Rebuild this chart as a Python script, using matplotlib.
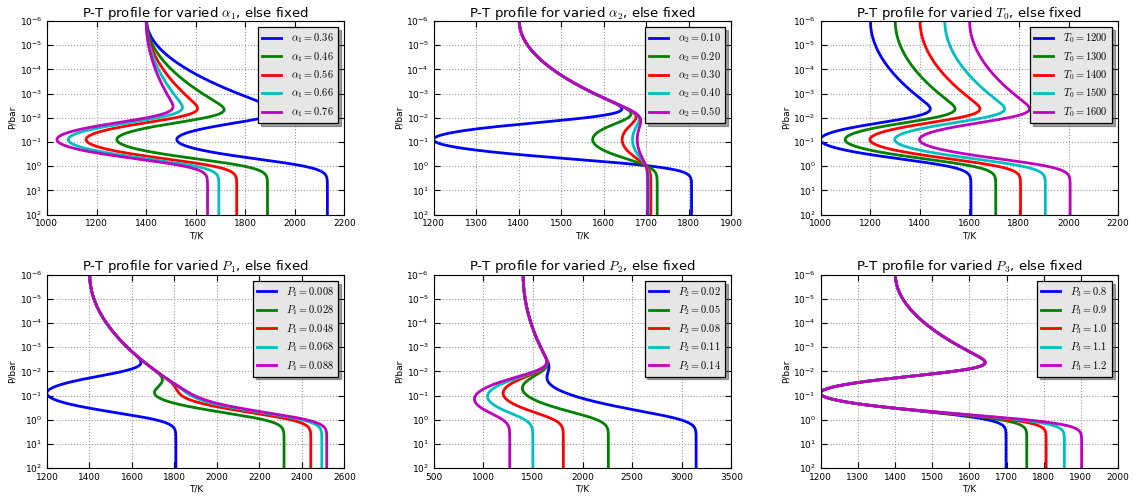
import numpy as np
import matplotlib
matplotlib.use('Agg')
import matplotlib.pyplot as plt

plt.rcParams['mathtext.fontset'] = 'cm'
plt.rcParams['font.family'] = ['DejaVu Sans']

# fixed values of the three-layer profile (Madhusudhan & Seager style)
T0_FIX = 1400.
ALPHA1_FIX = 0.52
ALPHA2_FIX = 0.10
P1_FIX = 0.008
P2_FIX = 0.08
P3_FIX = 1.0

# values that get varied, one panel each
alpha1_vals = [0.36, 0.46, 0.56, 0.66, 0.76]
alpha2_vals = [0.10, 0.20, 0.30, 0.40, 0.50]
t0_vals = [1200, 1300, 1400, 1500, 1600]
p1_vals = [0.008, 0.028, 0.048, 0.068, 0.088]
p2_vals = [0.02, 0.05, 0.08, 0.11, 0.14]
p3_vals = [0.8, 0.9, 1.0, 1.1, 1.2]

xlims = [(1000, 2200), (1200, 1900), (1000, 2200),
         (1200, 2600), (500, 3500), (1200, 2000)]
xsteps = [200, 100, 200, 200, 500, 100]
p_decades = np.arange(-6, 3)

COLORS = ['b', 'g', 'r', 'c', 'm']
P = np.logspace(-6, 2, 801)
SMOOTH_DEX = 0.24   # gaussian width in decades of pressure


def smooth(T, sigma_dex):
    dlog = np.log10(P[1] / P[0])
    s = sigma_dex / dlog
    n = int(4 * s)
    k = np.exp(-0.5 * (np.arange(-n, n + 1) / s) ** 2)
    k /= k.sum()
    Tp = np.pad(T, n, mode='reflect')
    return np.convolve(Tp, k, mode='valid')


def pt_profile(T0=T0_FIX, a1=ALPHA1_FIX, a2=ALPHA2_FIX,
               P1=P1_FIX, P2=P2_FIX, P3=P3_FIX):
    P0 = P[0]
    T1 = T0 + (np.log(P1 / P0) / a1) ** 2
    T2 = T1 - (np.log(P1 / P2) / a2) ** 2
    T3 = T2 + (np.log(P3 / P2) / a2) ** 2
    T = np.where(P < P1, T0 + (np.log(P / P0) / a1) ** 2,
                 np.where(P < P3, T2 + (np.log(P / P2) / a2) ** 2, T3))
    return smooth(T, SMOOTH_DEX)


panels = [
    ('a1', alpha1_vals, r'\alpha_1', '%.2f'),
    ('a2', alpha2_vals, r'\alpha_2', '%.2f'),
    ('T0', t0_vals, r'T_0', '%d'),
    ('P1', p1_vals, r'P_1', '%.3f'),
    ('P2', p2_vals, r'P_2', '%.2f'),
    ('P3', p3_vals, r'P_3', '%.1f'),
]

fig, axes = plt.subplots(2, 3, figsize=(11.34, 4.98), dpi=100)
fig.subplots_adjust(left=0.0414, right=0.986, top=0.958, bottom=0.06,
                    wspace=0.30, hspace=0.31)

for i, (key, vals, sym, fmt) in enumerate(panels):
    ax = axes.flat[i]
    for v, c in zip(vals, COLORS):
        T = pt_profile(**{key: v})
        ax.plot(T, P, color=c, lw=2, label=r'$%s=%s$' % (sym, fmt % v))
    ax.set_yscale('log')
    ax.set_yticks(10.0 ** p_decades)
    ax.yaxis.set_minor_locator(matplotlib.ticker.NullLocator())
    ax.set_ylim(1e2, 1e-6)
    ax.set_xlim(*xlims[i])
    ax.set_xticks(np.arange(xlims[i][0], xlims[i][1] + 1, xsteps[i]))
    ax.grid(True, color='0.6', linestyle=':', linewidth=0.8)
    ax.tick_params(direction='in', top=True, right=True, labelsize=6.5,
                   length=4, width=0.8)
    ax.set_title(r'P-T profile for varied $%s$, else fixed' % sym,
                 fontsize=9.5, pad=3)
    ax.set_xlabel('T/K', fontsize=6.5, labelpad=2)
    ax.set_ylabel('P/bar', fontsize=6.5, labelpad=2)
    leg = ax.legend(loc='upper right', fontsize=7.5, shadow=True,
                    fancybox=False, framealpha=1, borderaxespad=0.6,
                    handlelength=1.8, handletextpad=1.0, labelspacing=0.45)
    leg.get_frame().set_facecolor('0.9')
    leg.get_frame().set_edgecolor('k')
    leg.get_frame().set_linewidth(0.9)

fig.savefig('out.png', dpi=100)
